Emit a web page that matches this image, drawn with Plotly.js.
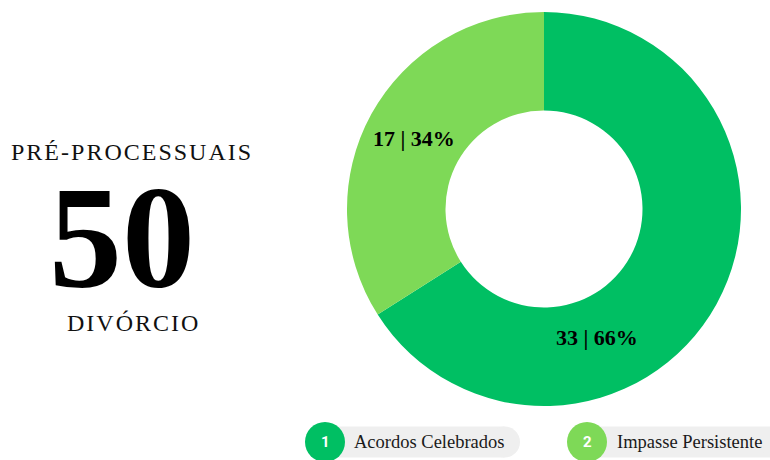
<!DOCTYPE html>
<html>
<head>
<meta charset="utf-8">
<script src="https://cdn.plot.ly/plotly-3.0.1.min.js"></script>
<style>html,body{margin:0;padding:0;background:#fff;}#chart{width:770px;height:460px;}</style>
</head>
<body>
<div id="chart"></div>
<script>
const categories = ["Acordos Celebrados", "Impasse Persistente"];
const values = [33, 17];
const colors = ["#00BF63", "#7ED957"];
const total = 50;
const headerTop = "PRÉ-PROCESSUAIS";
const headerBottom = "DIVÓRCIO";

const W = 770, H = 460;
const px = x => x / W;
const py = y => 1 - y / H;
const spaced = s => Array.from(s).join("\u200A");

const sum = values.reduce((a, b) => a + b, 0);
const labelText = values.map(v => "<b>" + v + " | " + Math.round(v / sum * 100) + "%</b>");

const serif = "Liberation Serif, Times New Roman, serif";

const trace = {
  type: "pie",
  labels: categories,
  values: values,
  marker: {colors: colors, line: {width: 0}},
  hole: 0.5,
  sort: false,
  direction: "clockwise",
  rotation: 0,
  textinfo: "none",
  hoverinfo: "none",
  showlegend: false,
  domain: {x: [px(347), px(741)], y: [py(406), py(12)]}
};

const labelPos = [[597, 337], [414, 138]];
const annotations = [
  {x: px(131), y: py(152), text: spaced(headerTop), font: {family: serif, size: 24, color: "#111"}},
  {x: px(122), y: py(238), text: "<b>" + total + "</b>", font: {family: serif, size: 146, color: "#000"}},
  {x: px(132), y: py(323), text: spaced(headerBottom), font: {family: serif, size: 24, color: "#111"}}
];
labelPos.forEach((p, i) => annotations.push({x: px(p[0]), y: py(p[1]), text: labelText[i], font: {family: serif, size: 22, color: "#000"}}));

const shapes = [];
const badges = [{cx: 325, right: 520, tx: 352}, {cx: 587, right: 790, tx: 615}];
badges.forEach((b, i) => {
  const cy = 442, r = 20, ph = 15.5;
  shapes.push({type: "rect", xref: "paper", yref: "paper", x0: px(b.cx), x1: px(b.right - ph), y0: py(cy + ph), y1: py(cy - ph), fillcolor: "#EFEFEF", line: {width: 0}, layer: "below"});
  shapes.push({type: "circle", xref: "paper", yref: "paper", x0: px(b.right - 2 * ph), x1: px(b.right), y0: py(cy + ph), y1: py(cy - ph), fillcolor: "#EFEFEF", line: {width: 0}, layer: "below"});
  shapes.push({type: "circle", xref: "paper", yref: "paper", x0: px(b.cx - r), x1: px(b.cx + r), y0: py(cy + r), y1: py(cy - r), fillcolor: colors[i], line: {width: 0}});
  annotations.push({x: px(b.cx), y: py(cy), text: "<b>" + (i + 1) + "</b>", font: {family: "Roboto, Arial, sans-serif", size: 15, color: "#fff"}});
  annotations.push({x: px(b.tx), y: py(cy), xanchor: "left", text: categories[i], font: {family: serif, size: 18.5, color: "#1a1a1a"}});
});
annotations.forEach(a => { a.xref = "paper"; a.yref = "paper"; a.showarrow = false; if (!a.xanchor) a.xanchor = "center"; a.yanchor = "middle"; });

const layout = {
  width: W, height: H,
  margin: {l: 0, r: 0, t: 0, b: 0},
  paper_bgcolor: "#fff",
  plot_bgcolor: "#fff",
  annotations: annotations,
  shapes: shapes
};
Plotly.newPlot("chart", [trace], layout, {displayModeBar: false, staticPlot: true});
</script>
</body>
</html>
